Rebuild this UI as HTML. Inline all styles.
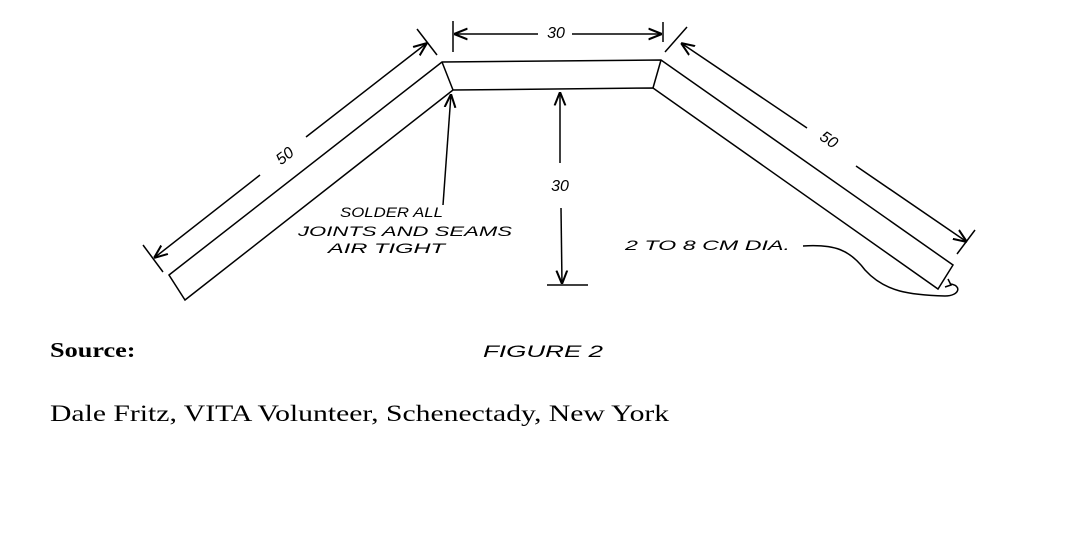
<!DOCTYPE html>
<html><head><style>
html,body{margin:0;padding:0;background:#fff;width:1086px;height:557px;overflow:hidden}
svg{position:absolute;left:0;top:0}
.h{font-family:"Liberation Sans",sans-serif;font-style:italic;font-size:14px;fill:#000}
.t{position:absolute;font-family:"Liberation Serif",serif;color:#000;transform-origin:0 0;transform:scaleX(1.29);white-space:nowrap}
</style></head><body>
<svg width="1086" height="557" viewBox="0 0 1086 557">
<defs><marker id="a" viewBox="0 0 10 10" refX="10" refY="5" markerWidth="9" markerHeight="9" orient="auto-start-reverse"><path d="M0,1 L10,5 L0,9" fill="none" stroke="#000" stroke-width="1.5"/></marker></defs>
<g stroke="#000" stroke-width="1.5" fill="none">
<path d="M169,275 L442,62 L661,60 L953,265 L938,289 L653,88 L453,90 L185,300 Z"/>
<path d="M442,62 L453,90 M661,60 L653,88"/>
<line x1="453" y1="21" x2="453" y2="52"/><line x1="663" y1="22" x2="663" y2="42"/>
<line x1="454" y1="34" x2="538" y2="34" marker-start="url(#a)"/>
<line x1="572" y1="34" x2="662" y2="34" marker-end="url(#a)"/>
<line x1="417" y1="29" x2="437" y2="55"/><line x1="143" y1="245" x2="163" y2="272"/>
<line x1="427" y1="43" x2="306" y2="137" marker-start="url(#a)"/>
<line x1="260" y1="175" x2="154" y2="258" marker-end="url(#a)"/>
<line x1="665" y1="52" x2="687" y2="27"/><line x1="957" y1="254" x2="975" y2="230"/>
<line x1="681" y1="43" x2="807" y2="128" marker-start="url(#a)"/>
<line x1="856" y1="166" x2="967" y2="242" marker-end="url(#a)"/>
<line x1="560" y1="163" x2="560" y2="92" marker-end="url(#a)"/>
<line x1="561" y1="208" x2="562" y2="284" marker-end="url(#a)"/>
<line x1="547" y1="285" x2="588" y2="285"/>
<line x1="443" y1="205" x2="451" y2="94" marker-end="url(#a)"/>
<path d="M803,246 C835,244 850,250 865,270 C885,292 910,295 945,296 C960,296 962,285 950,284" />
<path d="M948,279 L951,285 L945,287"/>
</g>
<text x="556" y="38" text-anchor="middle" style="font-family:'Liberation Sans',sans-serif;font-style:italic;font-size:16px">30</text>
<text x="560" y="191" text-anchor="middle" style="font-family:'Liberation Sans',sans-serif;font-style:italic;font-size:16px">30</text>
<text transform="translate(288,160) rotate(-38)" text-anchor="middle" style="font-family:'Liberation Sans',sans-serif;font-style:italic;font-size:16px">50</text>
<text transform="translate(826,144) rotate(34)" text-anchor="middle" style="font-family:'Liberation Sans',sans-serif;font-style:italic;font-size:16px">50</text>
<text class="h" x="340" y="217" textLength="103" lengthAdjust="spacingAndGlyphs">SOLDER ALL</text>
<text class="h" x="298" y="236" textLength="214" lengthAdjust="spacingAndGlyphs">JOINTS AND SEAMS</text>
<text class="h" x="328" y="253" textLength="117" lengthAdjust="spacingAndGlyphs">AIR TIGHT</text>
<text class="h" x="625" y="250" textLength="165" lengthAdjust="spacingAndGlyphs">2 TO 8 CM DIA.</text>
<text x="483" y="357" textLength="120" lengthAdjust="spacingAndGlyphs" style="font-family:'Liberation Sans',sans-serif;font-style:italic;font-size:17px">FIGURE 2</text>
</svg>
<div class="t" style="left:50px;top:338px;font-size:21px;font-weight:bold;transform:scaleX(1.25)">Source:</div>
<div class="t" style="left:50px;top:401px;font-size:23px">Dale Fritz, VITA Volunteer, Schenectady, New York</div>
</body></html>
